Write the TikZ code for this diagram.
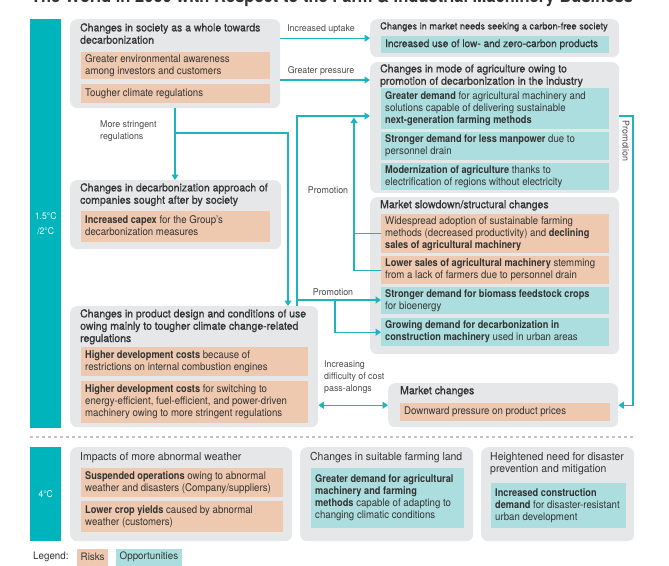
\documentclass[tikz,border=0pt]{standalone}
\usepackage{fontspec}
\setmainfont{TeX Gyre Heros}[FakeStretch=0.91,BoldFeatures={FakeStretch=0.87}]
\newfontfamily\ttlfont{TeX Gyre Heros}[FakeStretch=0.95,FakeBold=0.8]
\newfontfamily\ttlrfont{TeX Gyre Heros}[FakeStretch=0.95]
\newfontfamily\lblfont{TeX Gyre Heros}[FakeStretch=0.95]
\usetikzlibrary{arrows.meta}
\definecolor{barc}{HTML}{00B4BC}
\definecolor{grpc}{HTML}{E6E7E8}
\definecolor{riskc}{HTML}{EEC9AF}
\definecolor{oppc}{HTML}{ADDEDF}
\definecolor{lnc}{HTML}{1EB4BC}
\definecolor{txtc}{HTML}{333333}
\definecolor{lblc}{HTML}{4A4A4A}
\definecolor{dashc}{HTML}{C4C4C4}
\newcommand\bsz{\fontsize{10.6}{12}\selectfont}
\newcommand\tsz{\fontsize{11}{12.3}\selectfont}
\newcommand\lsz{\fontsize{9.3}{12}\selectfont}
\newcommand\lft[2]{\makebox[#1][l]{\begin{tabular}{@{}l@{}}#2\end{tabular}}}
\tikzset{
  grpbox/.style={fill=grpc, rounded corners=7pt, anchor=north west, inner sep=0pt},
  sub/.style={anchor=north west, inner xsep=4pt, inner ysep=0pt, font=\bsz, text=txtc},
  riskbox/.style={sub, fill=riskc},
  oppbox/.style={sub, fill=oppc},
  ttl/.style={anchor=north west, inner sep=0pt, align=left, font=\ttlfont\tsz, text=txtc},
  ttlr/.style={anchor=north west, inner sep=0pt, align=left, font=\ttlrfont\tsz, text=txtc},
  lbl/.style={inner sep=0pt, align=left, font=\lblfont\lsz, text=lblc},
  barbox/.style={fill=barc, anchor=north west, inner sep=0pt, minimum width=31pt},
  bartxt/.style={text=white, align=center, font=\fontsize{9.4}{15.5}\selectfont},
  conn/.style={draw=lnc, line width=1.2pt},
  arr/.style={conn, -{Triangle[length=5.5pt,width=7pt]}},
  darr/.style={conn, {Triangle[length=5.5pt,width=7pt]}-{Triangle[length=5.5pt,width=7pt]}},
  legtxt/.style={font=\lblfont\fontsize{10.3}{12}\selectfont, text=txtc},
}
\begin{document}
\begin{tikzpicture}[x=1pt,y=-1pt]
\useasboundingbox (0,0) rectangle (669,565);
\clip (0,0) rectangle (669,565);

% title (cut at top)
\node[anchor=base, inner sep=0pt, text=txtc, font=\bfseries\fontsize{19}{20}\selectfont] (title) at (332,2.5) {The World in 2030 with Respect to the Farm \& Industrial Machinery Business};

% side bars
\node[barbox, minimum height=409pt] (bar1) at (30,19) {};
\node[bartxt] (bar1t) at (bar1.center) {1.5°C\\/2°C};
\node[barbox, minimum height=94pt] (bar2) at (30,447) {};
\node[bartxt] (bar2t) at (bar2.center) {4°C};

% dashed separator
\coordinate (dl) at (30,437);
\coordinate (dr) at (634,437);
\draw[dashc, line width=1.3pt, dash pattern=on 3pt off 3pt] (dl) -- (dr);

% ===== Box A =====
\node[grpbox, minimum width=210pt, minimum height=89pt] (A) at (70,19) {};
\node[ttl] (At) at (80,23) {Changes in society as a whole towards\\decarbonization};
\node[riskbox, minimum height=27pt] (A1) at (81,52) {\lft{181pt}{Greater environmental awareness\\among investors and customers}};
\node[riskbox, minimum height=19pt] (A2) at (81,84) {\lft{181pt}{Tougher climate regulations}};

% ===== Box B =====
\node[grpbox, minimum width=249pt, minimum height=38pt] (B) at (370,19) {};
\node[ttl, font=\ttlfont\fontsize{9.7}{11}\selectfont] (Bt) at (380,22) {Changes in market needs seeking a carbon-free society};
\node[oppbox, minimum height=17pt, font=\ttlfont\bsz] (B1) at (381,36) {\lft{220pt}{Increased use of low- and zero-carbon products}};

% ===== Box C =====
\node[grpbox, minimum width=249pt, minimum height=131pt] (C) at (370,62) {};
\node[ttl] (Ct) at (380,64) {Changes in mode of agriculture owing to\\promotion of decarbonization in the industry};
\node[oppbox, minimum height=41pt] (C1) at (381,88) {\lft{220pt}{\textbf{Greater demand} for agricultural machinery and\\solutions capable of delivering sustainable\\\textbf{next-generation farming methods}}};
\node[oppbox, minimum height=28pt] (C2) at (381,132) {\lft{220pt}{\textbf{Stronger demand for less manpower} due to\\personnel drain}};
\node[oppbox, minimum height=27pt] (C3) at (381,163) {\lft{220pt}{\textbf{Modernization of agriculture} thanks to\\electrification of regions without electricity}};

% ===== Box D =====
\node[grpbox, minimum width=249pt, minimum height=157pt] (D) at (370,197) {};
\node[ttl] (Dt) at (380,200) {Market slowdown/structural changes};
\node[riskbox, minimum height=39pt] (D1) at (381,214) {\lft{220pt}{Widespread adoption of sustainable farming\\methods (decreased productivity) and \textbf{declining}\\\textbf{sales of agricultural machinery}}};
\node[riskbox, minimum height=28pt] (D2) at (381,256) {\lft{220pt}{\textbf{Lower sales of agricultural machinery} stemming\\from a lack of farmers due to personnel drain}};
\node[oppbox, minimum height=27pt] (D3) at (381,287) {\lft{220pt}{\textbf{Stronger demand for biomass feedstock crops}\\for bioenergy}};
\node[oppbox, minimum height=28pt] (D4) at (381,318) {\lft{220pt}{\textbf{Growing demand for decarbonization in}\\\textbf{construction machinery} used in urban areas}};

% ===== Box E =====
\node[grpbox, minimum width=211pt, minimum height=69pt] (E) at (70,180) {};
\node[ttl] (Et) at (80,183) {Changes in decarbonization approach of\\companies sought after by society};
\node[riskbox, minimum height=31pt] (E1) at (81,211) {\lft{181pt}{\textbf{Increased capex} for the Group's\\decarbonization measures}};

% ===== Box F =====
\node[grpbox, minimum width=248pt, minimum height=121pt] (F) at (70,306) {};
\node[ttl] (Ft) at (80,309) {Changes in product design and conditions of use\\owing mainly to tougher climate change-related\\regulations};
\node[riskbox, minimum height=29pt] (F1) at (81,347) {\lft{219pt}{\textbf{Higher development costs} because of\\restrictions on internal combustion engines}};
\node[riskbox, minimum height=42pt] (F2) at (81,381) {\lft{219pt}{\textbf{Higher development costs} for switching to\\energy-efficient, fuel-efficient, and power-driven\\machinery owing to more stringent regulations}};

% ===== Box G =====
\node[grpbox, minimum width=230pt, minimum height=44pt] (G) at (388,383) {};
\node[ttl] (Gt) at (400,386) {Market changes};
\node[riskbox, minimum height=18pt] (G1) at (400,403) {\lft{202pt}{Downward pressure on product prices}};

% ===== Lower boxes =====
\node[grpbox, minimum width=222pt, minimum height=94pt] (H) at (70,447) {};
\node[ttlr] (Ht) at (80,452) {Impacts of more abnormal weather};
\node[riskbox, minimum height=29pt] (H1) at (81,468) {\lft{194pt}{\textbf{Suspended operations} owing to abnormal\\weather and disasters (Company/suppliers)}};
\node[riskbox, minimum height=31pt] (H2) at (81,501) {\lft{194pt}{\textbf{Lower crop yields} caused by abnormal\\weather (customers)}};

\node[grpbox, minimum width=173pt, minimum height=94pt] (I) at (300,447) {};
\node[ttlr] (It) at (310,452) {Changes in suitable farming land};
\node[oppbox, minimum height=60pt] (I1) at (311,468) {\lft{145pt}{\textbf{Greater demand for agricultural}\\\textbf{machinery and farming}\\\textbf{methods} capable of adapting to\\changing climatic conditions}};

\node[grpbox, minimum width=153pt, minimum height=94pt] (J) at (481,447) {};
\node[ttlr] (Jt) at (490,452) {Heightened need for disaster\\prevention and mitigation};
\node[oppbox, minimum height=45pt] (J1) at (491,483) {\lft{127pt}{\textbf{Increased construction}\\\textbf{demand} for disaster-resistant\\urban development}};

% ===== Legend =====
\node[anchor=west, inner sep=0pt, legtxt] (leg) at (33,557) {Legend:};
\node[anchor=west, fill=riskc, inner xsep=3.5pt, minimum height=17pt, legtxt] (legr) at (77,557) {Risks};
\node[anchor=west, fill=oppc, inner xsep=3.5pt, minimum height=17pt, legtxt] (lego) at (116,557) {Opportunities};

% ===== Connectors =====
\draw[arr] (A.east |- B.west) -- (B.west);
\node[lbl, anchor=south] (l1) at (321,34) {Increased uptake};
\draw[arr] (A.east |- 0,80) -- (C.west |- 0,80);
\node[lbl, anchor=south] (l2) at (321,76) {Greater pressure};

\coordinate (sv) at (175,133);
\draw[arr] (A.south -| sv) -- (E.north -| sv);
\draw[arr] (sv) -| (F.north -| 288,0);
\node[lbl, anchor=north west] (l3) at (100,121) {More stringent\\regulations};

% promotion (left)
\coordinate (pt) at (297,116);
\draw[arr] (F.north -| pt) |- (C.west |- pt);
\node[lbl] (l4) at (328,190) {Promotion};
\coordinate (pb) at (297,300);
\draw[arr] (pb) -- (D3.west |- pb);
\coordinate (pm) at (335,300);
\draw[arr] (pm) |- (D4.west);
\node[lbl, anchor=south] (l5) at (333,296) {Promotion};

% feedback from market slowdown
\coordinate (qt) at (354,117.5);
\draw[conn] (D1.west) -- (D1.west -| qt);
\draw[arr] (D2.west) -| (qt);

% promotion (right)
\coordinate (rt) at (633,116);
\draw[arr] (C.east |- rt) -- (rt) |- (G.east);
\node[lbl, rotate=-90] (l6) at (626,141) {Promotion};

% cost pass-along
\draw[darr] (F.east |- G.east) -- (G.west);
\node[lbl, anchor=north west] (l7) at (324,361) {Increasing\\difficulty of cost\\pass-alongs};

\end{tikzpicture}
\end{document}
